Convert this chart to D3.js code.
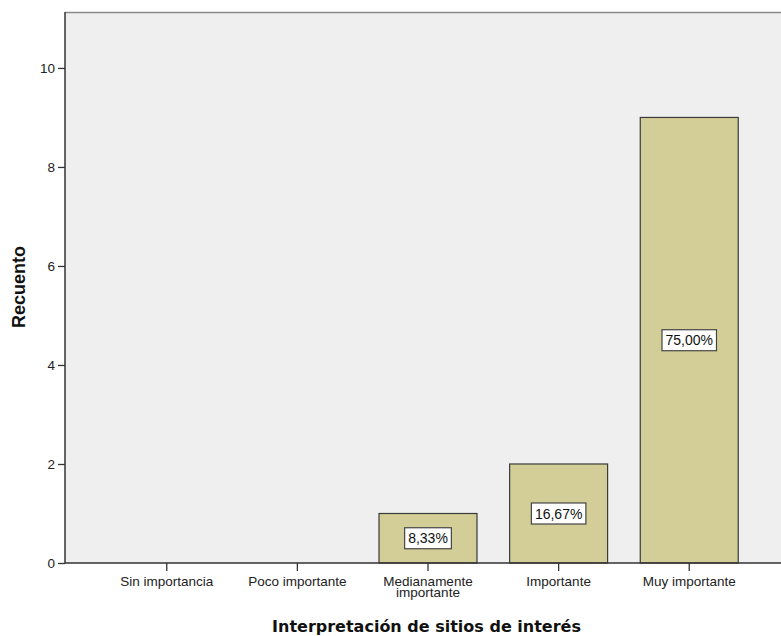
<!DOCTYPE html>
<html><head><meta charset="utf-8">
<script src="https://cdn.jsdelivr.net/npm/d3@7"></script>
<style>body{margin:0;background:#fff}svg{display:block}</style>
</head><body>
<script>
const categories = ["Sin importancia", "Poco importante", "Medianamente importante", "Importante", "Muy importante"];
const categoryLines = [["Sin importancia"], ["Poco importante"], ["Medianamente", "importante"], ["Importante"], ["Muy importante"]];
const counts = [0, 0, 1, 2, 9];
const percentLabels = ["", "", "8,33%", "16,67%", "75,00%"];
const yTicks = [0, 2, 4, 6, 8, 10];
const xTitle = "Interpretación de sitios de interés";
const yTitle = "Recuento";

const W = 781, H = 636;
const pLeft = 65, pRight = 791, pTop = 12, pBottom = 563;
const svg = d3.select("body").append("svg").attr("width", W).attr("height", H);

const x = d3.scaleBand().domain(categories).range([pLeft, pRight]).paddingInner(0.25).paddingOuter(0.404);
const y = d3.scaleLinear().domain([0, 11.13]).range([pBottom, pTop]);

svg.append("rect").attr("x", pLeft).attr("y", pTop).attr("width", pRight - pLeft).attr("height", pBottom - pTop).attr("fill", "#efefef");
svg.append("line").attr("x1", pLeft).attr("x2", pRight).attr("y1", pTop + 0.5).attr("y2", pTop + 0.5).attr("stroke", "#8a8a8a").attr("stroke-width", 1.5);

// bars
const data = categories.map((c, i) => ({c, v: counts[i], p: percentLabels[i]}));
svg.selectAll("rect.bar").data(data.filter(d => d.v > 0)).enter().append("rect")
  .attr("class", "bar")
  .attr("x", d => x(d.c)).attr("y", d => y(d.v))
  .attr("width", x.bandwidth()).attr("height", d => y(0) - y(d.v))
  .attr("fill", "#d3ce97").attr("stroke", "#3a3a3a").attr("stroke-width", 1.2);

// percent labels
const lab = svg.selectAll("g.lab").data(data.filter(d => d.v > 0)).enter().append("g").attr("class", "lab")
  .attr("transform", d => `translate(${x(d.c) + x.bandwidth() / 2},${y(d.v / 2)})`);
lab.each(function(d) {
  const g = d3.select(this);
  const r = g.append("rect");
  const t = g.append("text").text(d.p).attr("text-anchor", "middle").attr("dy", "0.36em")
    .attr("font-family", "Liberation Sans, Arial, sans-serif").attr("font-size", 14).attr("fill", "#111");
  const b = t.node().getBBox();
  r.attr("x", b.x - 3.5).attr("y", -10.5).attr("width", b.width + 7).attr("height", 21)
    .attr("fill", "#fff").attr("stroke", "#444").attr("stroke-width", 1.2);
});

// y axis
const yAxis = svg.append("g").attr("transform", `translate(${pLeft},0)`)
  .call(d3.axisLeft(y).tickValues(yTicks).tickSize(7).tickPadding(3).tickFormat(d3.format("d")));
yAxis.select(".domain").attr("stroke", "#333").attr("stroke-width", 1.5).attr("d", `M0,${pTop}V${pBottom}`);
yAxis.selectAll(".tick line").attr("stroke", "#333").attr("stroke-width", 1.3);
yAxis.selectAll(".tick text").attr("font-family", "Liberation Sans, Arial, sans-serif").attr("font-size", 13.5).attr("fill", "#222");

// x axis
const xAxis = svg.append("g").attr("transform", `translate(0,${pBottom})`)
  .call(d3.axisBottom(x).tickSize(8).tickFormat(""));
xAxis.select(".domain").attr("stroke", "#333").attr("stroke-width", 1.5).attr("d", `M${pLeft},0H${pRight}`);
xAxis.selectAll(".tick line").attr("stroke", "#333").attr("stroke-width", 1.3);
xAxis.selectAll(".tick").each(function(d, i) {
  const t = d3.select(this).append("text").attr("text-anchor", "middle")
    .attr("font-family", "Liberation Sans, Arial, sans-serif").attr("font-size", 13.5).attr("fill", "#222");
  categoryLines[i].forEach((ln, k) => t.append("tspan").attr("x", 0).attr("y", 22.5 + k * 11.5).text(ln));
});

// titles
svg.append("text").attr("x", 426.5).attr("y", 632).attr("text-anchor", "middle")
  .attr("font-family", "DejaVu Sans, sans-serif").attr("font-weight", "bold").attr("font-size", 16).attr("fill", "#111")
  .text(xTitle);
svg.append("text").attr("transform", "translate(25,287) rotate(-90)").attr("text-anchor", "middle")
  .attr("font-family", "Liberation Sans, Arial, sans-serif").attr("font-weight", "bold").attr("font-size", 18).attr("fill", "#111")
  .text(yTitle);
</script>
</body></html>
